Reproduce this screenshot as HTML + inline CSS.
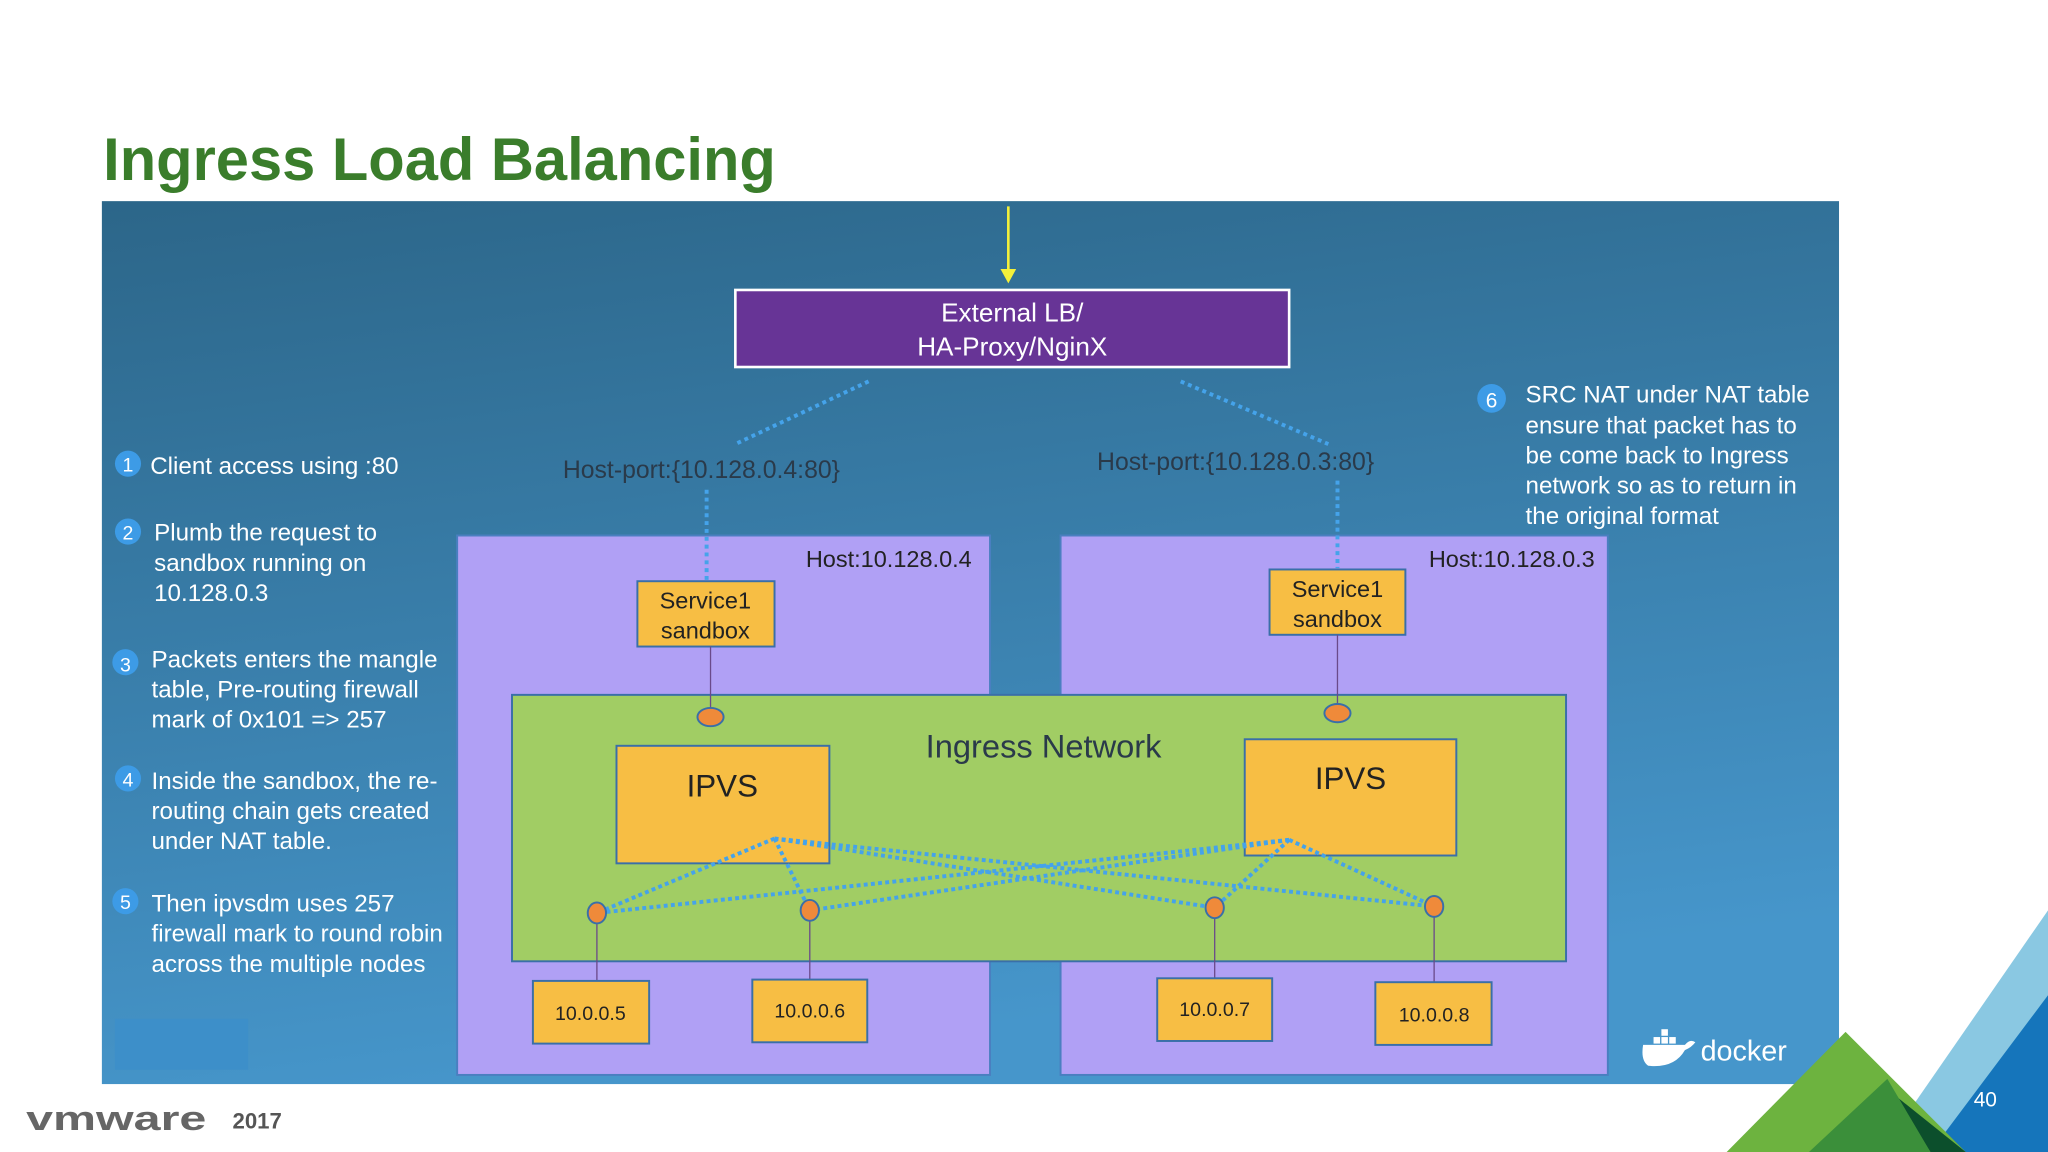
<!DOCTYPE html>
<html><head><meta charset="utf-8"><style>
html,body{margin:0;padding:0;background:#fff;}
svg{display:block;}
text{font-family:"Liberation Sans",sans-serif;}
</style></head><body>
<svg width="2048" height="1152" viewBox="0 0 1568 882" xmlns="http://www.w3.org/2000/svg">
<defs>
<linearGradient id="bg" x1="0" y1="0" x2="0.25" y2="1">
<stop offset="0" stop-color="#2c6689"/><stop offset="1" stop-color="#4696cb"/>
</linearGradient>
</defs>
<rect width="1568" height="882" fill="#fff"/>
<text x="79" y="138" font-size="46" font-weight="bold" fill="#3a7d2b" textLength="515" lengthAdjust="spacingAndGlyphs">Ingress Load Balancing</text>
<rect x="78" y="154" width="1330" height="676" fill="url(#bg)"/>
<rect x="88" y="780" width="102" height="39" fill="#3d8fc9"/>

<!-- yellow arrow -->
<line x1="772" y1="158" x2="772" y2="208" stroke="#f4f03a" stroke-width="2"/>
<polygon points="766,206 778,206 772,217" fill="#f4f03a"/>

<!-- External LB -->
<rect x="563" y="222" width="424" height="59" fill="#673496" stroke="#fff" stroke-width="2"/>
<text x="775" y="246" font-size="20" fill="#fff" text-anchor="middle">External LB/</text>
<text x="775" y="272" font-size="20" fill="#fff" text-anchor="middle">HA-Proxy/NginX</text>

<!-- hosts -->
<rect x="350" y="410" width="408" height="413" fill="#b0a0f5" stroke="#4a7fc0" stroke-width="1.5"/>
<rect x="812" y="410" width="419" height="413" fill="#b0a0f5" stroke="#4a7fc0" stroke-width="1.5"/>
<text x="744" y="434" font-size="18" fill="#222" text-anchor="end">Host:10.128.0.4</text>
<text x="1221" y="434" font-size="18" fill="#222" text-anchor="end">Host:10.128.0.3</text>

<!-- host-port labels and dotted lines -->
<text x="537" y="366" font-size="19" fill="#2a3a4a" text-anchor="middle">Host-port:{10.128.0.4:80}</text>
<text x="946" y="360" font-size="19" fill="#2a3a4a" text-anchor="middle">Host-port:{10.128.0.3:80}</text>
<g stroke="#45a3ea" stroke-width="3" stroke-dasharray="3,3" fill="none">
<line x1="665" y1="292" x2="563" y2="340"/>
<line x1="541" y1="375" x2="541" y2="445"/>
<line x1="904" y1="292" x2="1017" y2="340"/>
<line x1="1024" y1="368" x2="1024" y2="435"/>
</g>

<!-- service sandboxes -->
<rect x="488" y="445" width="105" height="50" fill="#f7be44" stroke="#3a6fa8" stroke-width="1.5"/>
<text x="540" y="466" font-size="18" fill="#222" text-anchor="middle">Service1</text>
<text x="540" y="489" font-size="18" fill="#222" text-anchor="middle">sandbox</text>
<rect x="972" y="436" width="104" height="50" fill="#f7be44" stroke="#3a6fa8" stroke-width="1.5"/>
<text x="1024" y="457" font-size="18" fill="#222" text-anchor="middle">Service1</text>
<text x="1024" y="480" font-size="18" fill="#222" text-anchor="middle">sandbox</text>

<!-- ingress network -->
<rect x="392" y="532" width="807" height="204" fill="#a1cd64" stroke="#3a6fa8" stroke-width="1.5"/>
<text x="799" y="580" font-size="25" fill="#2a3a4a" text-anchor="middle">Ingress Network</text>
<g stroke="#6a4a8a" stroke-width="1">
<line x1="544" y1="495" x2="544" y2="543"/>
<line x1="1024" y1="486" x2="1024" y2="540"/>
<line x1="457" y1="705" x2="457" y2="751"/>
<line x1="620" y1="703" x2="620" y2="750"/>
<line x1="930" y1="701" x2="930" y2="749"/>
<line x1="1098" y1="700" x2="1098" y2="752"/>
</g>
<rect x="472" y="571" width="163" height="90" fill="#f7be44" stroke="#3a6fa8" stroke-width="1.5"/>
<text x="553" y="610" font-size="24" fill="#222" text-anchor="middle">IPVS</text>
<rect x="953" y="566" width="162" height="89" fill="#f7be44" stroke="#3a6fa8" stroke-width="1.5"/>
<text x="1034" y="604" font-size="24" fill="#222" text-anchor="middle">IPVS</text>

<g stroke="#45a3ea" stroke-width="3" stroke-dasharray="3,2.5" fill="none">
<line x1="593" y1="642" x2="457" y2="699"/>
<line x1="593" y1="642" x2="620" y2="697"/>
<line x1="593" y1="642" x2="930" y2="695"/>
<line x1="593" y1="642" x2="1098" y2="694"/>
<line x1="987" y1="643" x2="457" y2="699"/>
<line x1="987" y1="643" x2="620" y2="697"/>
<line x1="987" y1="643" x2="930" y2="695"/>
<line x1="987" y1="643" x2="1098" y2="694"/>
</g>
<g fill="#ef8a3a" stroke="#3a6fa8" stroke-width="1.5">
<ellipse cx="544" cy="549" rx="10" ry="7"/>
<ellipse cx="1024" cy="546" rx="10" ry="7"/>
<ellipse cx="457" cy="699" rx="7" ry="8"/>
<ellipse cx="620" cy="697" rx="7" ry="8"/>
<ellipse cx="930" cy="695" rx="7" ry="8"/>
<ellipse cx="1098" cy="694" rx="7" ry="8"/>
</g>

<!-- IP boxes -->
<g fill="#f7be44" stroke="#3a6fa8" stroke-width="1.5">
<rect x="408" y="751" width="89" height="48"/>
<rect x="576" y="750" width="88" height="48"/>
<rect x="886" y="749" width="88" height="48"/>
<rect x="1053" y="752" width="89" height="48"/>
</g>
<g font-size="15" fill="#222" text-anchor="middle">
<text x="452" y="781">10.0.0.5</text>
<text x="620" y="779">10.0.0.6</text>
<text x="930" y="778">10.0.0.7</text>
<text x="1098" y="782">10.0.0.8</text>
</g>

<!-- left notes -->
<g fill="#3d9be6">
<circle cx="98" cy="355" r="10"/><circle cx="98" cy="407" r="10"/><circle cx="96" cy="507" r="10"/>
<circle cx="98" cy="596" r="10"/><circle cx="96" cy="690" r="10"/><circle cx="1142" cy="305" r="11"/>
</g>
<g fill="#fff" font-size="15" text-anchor="middle">
<text x="98" y="361">1</text><text x="98" y="413">2</text><text x="96" y="514">3</text>
<text x="98" y="602">4</text><text x="96" y="696">5</text><text x="1142" y="312" font-size="16">6</text>
</g>
<g fill="#fff" font-size="18.5">
<text x="115" y="363">Client access using :80</text>
<text x="118" y="414">Plumb the request to</text>
<text x="118" y="437">sandbox running on</text>
<text x="118" y="460">10.128.0.3</text>
<text x="116" y="511">Packets enters the mangle</text>
<text x="116" y="534">table, Pre-routing firewall</text>
<text x="116" y="557">mark of 0x101  =&gt; 257</text>
<text x="116" y="604">Inside the sandbox, the re-</text>
<text x="116" y="627">routing chain gets created</text>
<text x="116" y="650">under NAT table.</text>
<text x="116" y="698">Then ipvsdm uses 257</text>
<text x="116" y="721">firewall mark to round robin</text>
<text x="116" y="744">across the multiple nodes</text>
<text x="1168" y="308">SRC NAT under NAT table</text>
<text x="1168" y="332">ensure that packet has to</text>
<text x="1168" y="355">be come back to Ingress</text>
<text x="1168" y="378">network so as to return in</text>
<text x="1168" y="401">the original format</text>
</g>

<!-- docker logo -->
<g fill="#fff">
<path d="M1258,800 h32 q4,-5 8,-2 q-3,4 -8,6 q-8,14 -28,12 q-6,-4 -4,-16z"/>
<rect x="1266" y="794" width="5" height="5"/><rect x="1272" y="794" width="5" height="5"/><rect x="1278" y="794" width="5" height="5"/>
<rect x="1272" y="788" width="5" height="5"/>
</g>
<text x="1302" y="812" font-size="22" fill="#fff">docker</text>

<!-- footer -->
<text x="20" y="865" font-size="26" font-weight="bold" fill="#666" textLength="138" lengthAdjust="spacingAndGlyphs">vmware</text>
<text x="178" y="864" font-size="17" font-weight="bold" fill="#555">2017</text>

<!-- corner triangles -->
<polygon points="1568,697 1568,882 1440,882" fill="#8ac8e2"/>
<polygon points="1568,762 1568,882 1478,882" fill="#1575bb"/>
<polygon points="1413,790 1322,882 1505,882" fill="#6db33f"/>
<polygon points="1450,838 1478,882 1505,882 1505,882" fill="#0c4f2c"/>
<polygon points="1445,826 1385,882 1478,882" fill="#3b8f3a"/>
<text x="1520" y="847" font-size="16" fill="#fff" text-anchor="middle">40</text>
</svg>
</body></html>
